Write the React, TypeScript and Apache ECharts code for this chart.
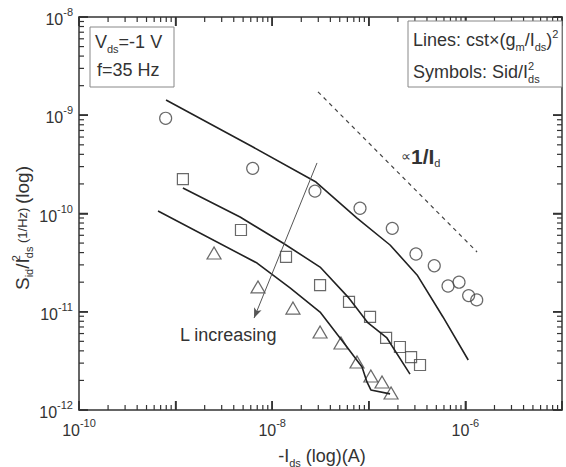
import React, { useEffect, useRef } from "react";
import * as echarts from "echarts";

const X_MIN = 1e-10;
const X_MAX = 1e-5;
const Y_MIN = 1e-12;
const Y_MAX = 1e-8;

// Symbols: Sid/Ids^2
const circlePoints: number[][] = [
  [7.89e-10, 9.31e-10], [6.28e-9, 2.88e-10], [2.77e-8, 1.69e-10], [8.11e-8, 1.13e-10],
  [1.75e-7, 7.06e-11], [3.08e-7, 3.87e-11], [4.76e-7, 2.94e-11], [6.61e-7, 1.83e-11],
  [8.59e-7, 2.0e-11], [1.08e-6, 1.46e-11], [1.31e-6, 1.32e-11],
];
const squarePoints: number[][] = [
  [1.19e-9, 2.24e-10], [4.75e-9, 6.79e-11], [1.39e-8, 3.61e-11], [3.13e-8, 1.87e-11],
  [6.24e-8, 1.26e-11], [1.03e-7, 8.85e-12], [1.51e-7, 5.41e-12], [2.1e-7, 4.38e-12],
  [2.74e-7, 3.46e-12], [3.39e-7, 2.87e-12],
];
const trianglePoints: number[][] = [
  [2.5e-9, 3.96e-11], [7.13e-9, 1.79e-11], [1.64e-8, 1.09e-11], [3.13e-8, 6.22e-12],
  [5.15e-8, 4.81e-12], [7.55e-8, 3.08e-12], [1.05e-7, 2.22e-12], [1.37e-7, 1.93e-12],
  [1.7e-7, 1.49e-12],
];

// Lines: cst x (gm/Ids)^2
const line1: number[][] = [
  [7.96e-10, 1.43e-9], [6.32e-9, 4.75e-10], [2.84e-8, 2.09e-10], [7.55e-8, 8.99e-11],
  [1.66e-7, 4.78e-11], [3.16e-7, 2.37e-11], [5.86e-7, 8.85e-12], [1.07e-6, 3.23e-12],
];
const line2: number[][] = [
  [1.19e-9, 1.82e-10], [4.65e-9, 9.2e-11], [1.29e-8, 5.01e-11], [3.13e-8, 2.85e-11],
  [6.1e-8, 1.41e-11], [9.82e-8, 7.69e-12], [1.54e-7, 5.41e-12], [2.67e-7, 2.32e-12],
];
const line3: number[][] = [
  [6.58e-10, 1.06e-10], [6.97e-9, 3.13e-11], [1.53e-8, 1.75e-11], [3.13e-8, 9.93e-12],
  [5.94e-8, 4.38e-12], [8.51e-8, 2.74e-12], [9.57e-8, 1.93e-12], [1.05e-7, 1.6e-12],
  [1.66e-7, 1.46e-12],
];

const slopeLine: number[][] = [[2.98e-8, 1.73e-9], [1.32e-6, 4.06e-11]];
const arrowStart = [2.91e-8, 3.27e-10];
const arrowEnd = [6.49e-9, 8.63e-12];

const X_DECADES = [-10, -9, -8, -7, -6, -5];
const Y_DECADES = [-12, -11, -10, -9, -8];
const MINOR_MULT = [2, 3, 4, 5, 6, 7, 8, 9];

const FONT = "'Liberation Sans', Arial, Helvetica, sans-serif";
const AX = "#333";
const TXT = "#333";

export default function App() {
  const ref = useRef<HTMLDivElement>(null);

  useEffect(() => {
    if (!ref.current) return;
    const chart = echarts.init(ref.current, undefined, { renderer: "svg" });

    const expLabel = (onlyEven: boolean) => (v: number) => {
      const e = Math.round(Math.log10(v));
      if (onlyEven && e % 2 !== 0) return "";
      return `{b|10}{s|${e}}`;
    };
    const labelRich = {
      b: { fontSize: 16, lineHeight: 21, verticalAlign: "bottom", color: TXT, fontFamily: FONT },
      s: { fontSize: 11, lineHeight: 11, verticalAlign: "top", color: TXT, fontFamily: FONT },
    };

    const axisCommon = {
      type: "log",
      logBase: 10,
      axisLine: { show: true, lineStyle: { color: AX, width: 1.5 } },
      axisTick: { show: true, inside: true, length: 9, lineStyle: { color: AX, width: 1.5 } },
      splitLine: { show: false },
      minorTick: { show: false },
    };

    const richText = {
      m: { fontSize: 18, lineHeight: 24, fill: TXT, fontFamily: FONT },
      sb: { fontSize: 11, lineHeight: 11, verticalAlign: "bottom", fill: TXT, fontFamily: FONT },
      sp: { fontSize: 11, lineHeight: 11, verticalAlign: "top", fill: TXT, fontFamily: FONT },
      sp0: { fontSize: 11, lineHeight: 11, verticalAlign: "top", width: 0, fill: TXT, fontFamily: FONT },
      sm: { fontSize: 13, lineHeight: 24, fill: TXT, fontFamily: FONT },
    };

    const symStyle = { color: "rgba(0,0,0,0)", borderColor: "#444", borderWidth: 1.2 };
    const lineStyle = { color: "#222", width: 1.6 };

    chart.setOption({
      animation: false,
      textStyle: { fontFamily: FONT },
      grid: { left: 79, right: 4, top: 17, bottom: 57, containLabel: false },
      xAxis: [
        {
          ...axisCommon,
          position: "bottom",
          min: X_MIN,
          max: X_MAX,
          axisLabel: { show: true, margin: 7, formatter: expLabel(true), rich: labelRich },
        },
        { ...axisCommon, position: "top", min: X_MIN, max: X_MAX, axisLabel: { show: false } },
      ],
      yAxis: [
        {
          ...axisCommon,
          position: "left",
          min: Y_MIN,
          max: Y_MAX,
          axisLabel: { show: true, margin: 6, formatter: expLabel(false), rich: labelRich },
        },
        { ...axisCommon, position: "right", min: Y_MIN, max: Y_MAX, axisLabel: { show: false } },
      ],
      series: [
        { type: "line", data: line1, showSymbol: false, symbol: "none", lineStyle },
        { type: "line", data: line2, showSymbol: false, symbol: "none", lineStyle },
        {
          type: "line",
          data: line3,
          showSymbol: false,
          symbol: "none",
          lineStyle,
          markLine: {
            symbol: ["none", "arrow"],
            symbolSize: [6, 10],
            label: { show: false },
            lineStyle: { color: "#555", width: 1, type: "solid" },
            data: [[{ coord: arrowStart }, { coord: arrowEnd }]],
          },
        },
        {
          type: "line",
          data: slopeLine,
          showSymbol: false,
          symbol: "none",
          lineStyle: { color: "#444", width: 1.2, type: [4, 4] },
        },
        { type: "scatter", data: circlePoints, symbol: "circle", symbolSize: 12, itemStyle: symStyle },
        { type: "scatter", data: squarePoints, symbol: "rect", symbolSize: 11, itemStyle: symStyle },
        { type: "scatter", data: trianglePoints, symbol: "triangle", symbolSize: [14, 12], itemStyle: symStyle },
      ],
    });

    // Minor tick marks placed with the axes' own scales
    const px = (v: number) => chart.convertToPixel({ xAxisIndex: 0 }, v) as number;
    const py = (v: number) => chart.convertToPixel({ yAxisIndex: 0 }, v) as number;
    const top = py(Y_MAX);
    const bottom = py(Y_MIN);
    const left = px(X_MIN);
    const right = px(X_MAX);
    const tick = (x1: number, y1: number, x2: number, y2: number, w: number) => ({
      type: "line",
      z: 5,
      shape: { x1, y1, x2, y2 },
      style: { stroke: AX, lineWidth: w },
    });
    const ticks: any[] = [];
    X_DECADES.forEach((e, i) => {
      const x = px(Math.pow(10, e));
      ticks.push(tick(x, bottom, x, bottom - 9, 1.5), tick(x, top, x, top + 9, 1.5));
      if (i < X_DECADES.length - 1) {
        MINOR_MULT.forEach((m) => {
          const xm = px(m * Math.pow(10, e));
          ticks.push(tick(xm, bottom, xm, bottom - 5, 1.2), tick(xm, top, xm, top + 5, 1.2));
        });
      }
    });
    Y_DECADES.forEach((e, i) => {
      const y = py(Math.pow(10, e));
      ticks.push(tick(left, y, left + 9, y, 1.5), tick(right, y, right - 9, y, 1.5));
      if (i < Y_DECADES.length - 1) {
        MINOR_MULT.forEach((m) => {
          const ym = py(m * Math.pow(10, e));
          ticks.push(tick(left, ym, left + 5, ym, 1.2), tick(right, ym, right - 5, ym, 1.2));
        });
      }
    });

    const texts: any[] = [
      {
        type: "rect",
        shape: { x: 90, y: 27, width: 84, height: 60 },
        style: { fill: "#fff", stroke: "#888", lineWidth: 1 },
        z: 10,
      },
      {
        type: "text",
        x: 95,
        y: 42,
        z: 11,
        style: { text: "{m|V}{sb|ds}{m|=-1 V}", rich: richText, align: "left", verticalAlign: "middle" },
      },
      {
        type: "text",
        x: 97,
        y: 70,
        z: 11,
        style: { text: "{m|f=35 Hz}", rich: richText, align: "left", verticalAlign: "middle" },
      },
      {
        type: "rect",
        shape: { x: 408, y: 21, width: 154, height: 66 },
        style: { fill: "#fff", stroke: "#888", lineWidth: 1 },
        z: 10,
      },
      {
        type: "text",
        x: 413,
        y: 40,
        z: 11,
        style: {
          text: "{m|Lines: cst×(g}{sb|m}{m|/I}{sb|ds}{m|)}{sp|2}",
          rich: richText,
          align: "left",
          verticalAlign: "middle",
        },
      },
      {
        type: "text",
        x: 413,
        y: 72,
        z: 11,
        style: { text: "{m|Symbols: Sid/I}{sp0|2}{sb|ds}", rich: richText, align: "left", verticalAlign: "middle" },
      },
      {
        type: "text",
        x: 401,
        y: 156,
        z: 11,
        style: {
          text: "{p|∝}{b|1/I}{sb|d}",
          rich: {
            ...richText,
            p: { fontSize: 14, lineHeight: 24, fill: TXT, fontFamily: FONT },
            b: { fontSize: 21, lineHeight: 24, fontWeight: "bold", fill: TXT, fontFamily: FONT },
          },
          align: "left",
          verticalAlign: "middle",
        },
      },
      {
        type: "text",
        x: 180,
        y: 335,
        z: 11,
        style: { text: "L increasing", fontSize: 18, fontFamily: FONT, fill: TXT, align: "left", verticalAlign: "middle" },
      },
      {
        type: "text",
        x: 322,
        y: 456,
        z: 11,
        style: { text: "{m|-I}{sb|ds}{m| (log)(A)}", rich: richText, align: "center", verticalAlign: "middle" },
      },
      {
        type: "text",
        x: 22,
        y: 228,
        rotation: Math.PI / 2,
        z: 11,
        style: {
          text: "{m|S}{sb|id}{m|/I}{sp0|2}{sb|ds}{sm| (1/Hz) }{m|(log)}",
          rich: {
            ...richText,
            m: { fontSize: 19, lineHeight: 24, fill: TXT, fontFamily: FONT },
          },
          align: "center",
          verticalAlign: "middle",
        },
      },
    ];

    chart.setOption({ graphic: [...ticks, ...texts] });

    return () => chart.dispose();
  }, []);

  return (
    <div
      ref={ref}
      style={{ position: "absolute", left: 0, top: 0, width: 566, height: 467, background: "#fff" }}
    />
  );
}
